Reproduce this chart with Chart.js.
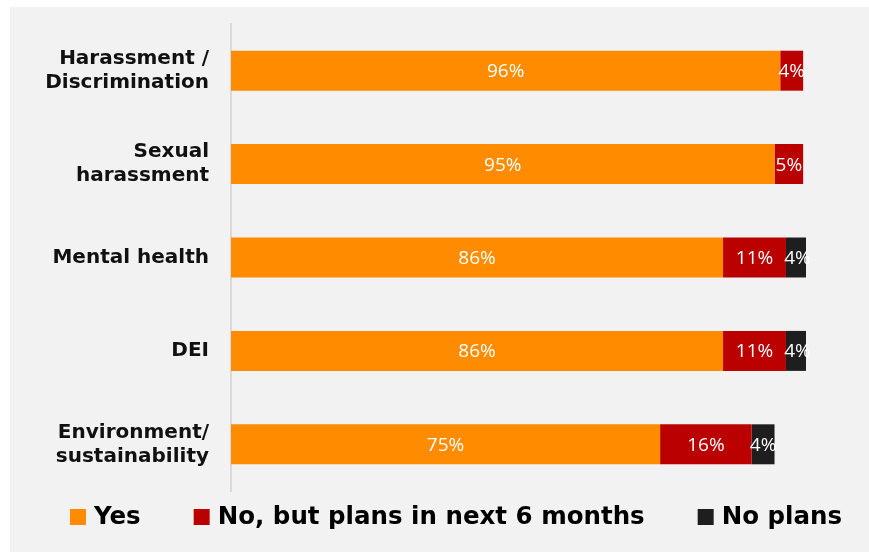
<!DOCTYPE html>
<html>
<head>
<meta charset="utf-8">
<script src="https://cdn.jsdelivr.net/npm/chart.js@4.4.1/dist/chart.umd.min.js"></script>
<style>
  html, body { margin: 0; padding: 0; background: #ffffff; }
  #panel { position: absolute; left: 10px; top: 7px; width: 859px; height: 545px; background: #f2f2f2; }
  #wrap { position: absolute; left: 0; top: 0; width: 869px; height: 552px; }
</style>
</head>
<body>
<div id="panel"></div>
<div id="wrap"><canvas id="chart" width="869" height="552"></canvas></div>
<script>
const categories = [
    ['Harassment /', 'Discrimination'],
    ['Sexual', 'harassment'],
    'Mental health',
    'DEI',
    ['Environment/', 'sustainability']
];
const yesValues = [96, 95, 86, 86, 75];
const plansValues = [4, 5, 11, 11, 16];
const noPlansValues = [0, 0, 4, 4, 4];

const seriesNames = ['Yes', 'No, but plans in next 6 months', 'No plans'];
const seriesColors = ['#ff8c00', '#bb0000', '#1e1e1e'];

// percentage written in the middle of every non-empty segment
const segmentLabels = {
    id: 'segmentLabels',
    afterDatasetsDraw(chart) {
        const ctx = chart.ctx;
        ctx.save();
        ctx.font = '19px "Open Sans", sans-serif';
        ctx.fillStyle = '#ffffff';
        ctx.textAlign = 'center';
        ctx.textBaseline = 'middle';
        chart.data.datasets.forEach((ds, i) => {
            chart.getDatasetMeta(i).data.forEach((bar, j) => {
                const v = ds.data[j];
                if (!v) return;
                ctx.fillText(v + '%', (bar.x + bar.base) / 2, bar.y + 1);
            });
        });
        ctx.restore();
    }
};

// one-row legend under the bars, squares + bold names
const bottomLegend = {
    id: 'bottomLegend',
    afterDraw(chart) {
        const ctx = chart.ctx;
        const box = 16, gap = 8, spacing = 53;
        const y = 517;
        ctx.save();
        ctx.font = 'bold 24.5px "DejaVu Sans", sans-serif';
        ctx.textBaseline = 'middle';
        ctx.textAlign = 'left';
        const widths = chart.data.datasets.map(ds => box + gap + ctx.measureText(ds.label).width);
        const total = widths.reduce((a, b) => a + b, 0) + spacing * (widths.length - 1);
        let x = 456 - total / 2;
        chart.data.datasets.forEach((ds, i) => {
            ctx.fillStyle = ds.backgroundColor;
            ctx.fillRect(x, y - box / 2, box, box);
            ctx.fillStyle = '#000000';
            ctx.fillText(ds.label, x + box + gap, y + 1);
            x += widths[i] + spacing;
        });
        ctx.restore();
    }
};

new Chart(document.getElementById('chart'), {
    type: 'bar',
    data: {
        labels: categories,
        datasets: [yesValues, plansValues, noPlansValues].map((vals, i) => ({
            label: seriesNames[i],
            data: vals,
            backgroundColor: seriesColors[i],
            barPercentage: 0.856,
            categoryPercentage: 0.5
        }))
    },
    options: {
        indexAxis: 'y',
        responsive: false,
        animation: false,
        layout: { padding: { left: 10, right: 63, top: 24, bottom: 61 } },
        scales: {
            x: {
                stacked: true,
                min: 0,
                max: 100.5,
                display: false
            },
            y: {
                stacked: true,
                grid: { display: false, drawTicks: false },
                border: { color: '#d9d9d9', width: 2 },
                ticks: {
                    color: '#111111',
                    font: { family: '"DejaVu Sans", sans-serif', size: 20, weight: 'bold', lineHeight: 1.2 },
                    padding: 22
                },
                afterFit(scale) {
                    scale.width = 221;
                    // two-line labels must not push the plot area down
                    scale.paddingTop = 0;
                    scale.paddingBottom = 0;
                }
            }
        },
        plugins: {
            legend: { display: false },
            tooltip: { enabled: false }
        }
    },
    plugins: [segmentLabels, bottomLegend]
});
</script>
</body>
</html>
